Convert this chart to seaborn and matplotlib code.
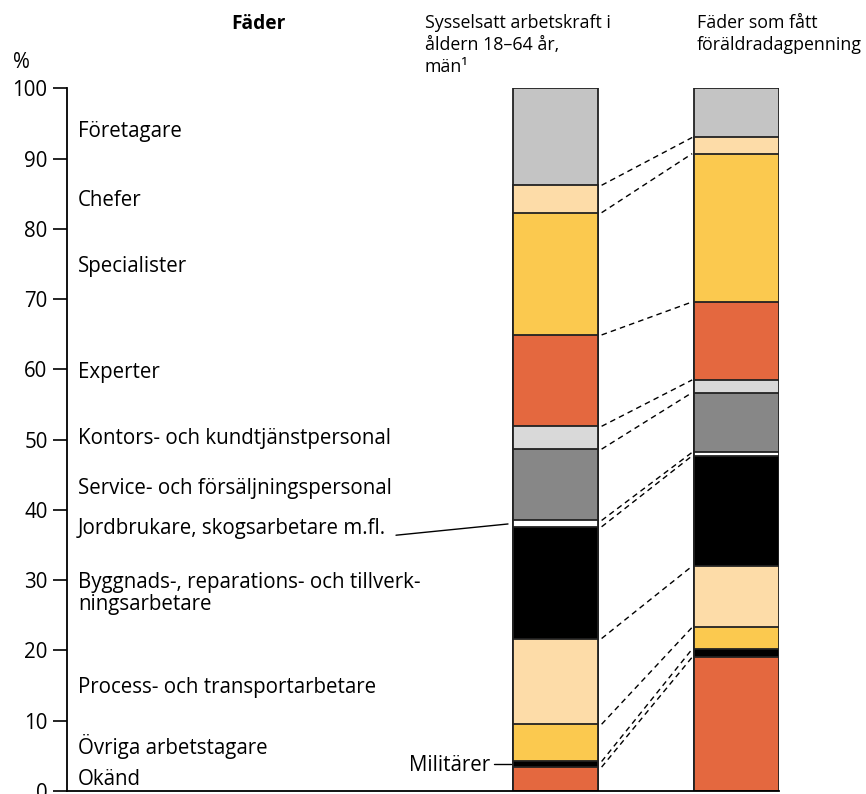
import pandas as pd
import matplotlib
matplotlib.use("Agg")
import matplotlib.pyplot as plt
import matplotlib.transforms as mtransforms
import seaborn as sns

sns.set_theme(style="white")
plt.rcParams["font.family"] = ["Open Sans", "DejaVu Sans"]
plt.rcParams["text.color"] = "black"

# Data, bottom to top
categories = ["Okänd", "Militärer", "Övriga arbetstagare", "Process- och transportarbetare",
              "Byggnads-, reparations- och tillverkningsarbetare", "Jordbrukare, skogsarbetare m.fl.",
              "Service- och försäljningspersonal", "Kontors- och kundtjänstpersonal",
              "Experter", "Specialister", "Chefer", "Företagare"]
columns = ["Sysselsatt arbetskraft", "Fäder med föräldradagpenning"]
workforce = [3.4, 0.8, 5.3, 12.2, 15.9, 0.9, 10.15, 3.25, 13.0, 17.4, 3.9, 13.8]
fathers = [19.05, 1.15, 3.1, 8.7, 15.7, 0.5, 8.5, 1.8, 11.1, 21.1, 2.3, 7.0]
colors = ["#e4683f", "#000000", "#fbc94f", "#fddca8", "#000000", "#ffffff",
          "#878787", "#d9d9d9", "#e4683f", "#fbc94f", "#fddca8", "#c4c4c4"]

# labels on the left (text, y position)
label_text = ["Okänd", "Övriga arbetstagare", "Process- och transportarbetare",
              "Byggnads-, reparations- och tillverk-\nningsarbetare",
              "Jordbrukare, skogsarbetare m.fl.", "Service- och försäljningspersonal",
              "Kontors- och kundtjänstpersonal", "Experter", "Specialister", "Chefer", "Företagare"]
label_y = [1.6, 6.3, 14.8, 28.1, 37.4, 43.1, 50.1, 59.5, 74.6, 84.1, 93.9]

df = pd.DataFrame({"category": categories * 2,
                   "column": [columns[0]] * 12 + [columns[1]] * 12,
                   "value": workforce + fathers})
df["top"] = df.groupby("column")["value"].cumsum()

FS = 14.8
HFS = 12.8
fig = plt.figure(figsize=(8.66, 7.94), dpi=100)
ax = fig.add_axes([67 / 866, 1 - 791 / 794, (779 - 67) / 866, (791 - 88.3) / 794])

w = 85 / 181
# draw cumulative bars from the top down so the lower layers cover the upper ones
for cat, col in reversed(list(zip(categories, colors))):
    sub = df[df["category"] == cat]
    sns.barplot(data=sub, x="column", y="top", order=columns, color=col, saturation=1,
                width=w, edgecolor="#222222", linewidth=1.3, ax=ax)

# dashed connectors between segment boundaries
tops1 = df[df["column"] == columns[0]]["top"].values[:-1]
tops2 = df[df["column"] == columns[1]]["top"].values[:-1]
for a, b in zip(tops1, tops2):
    ax.plot([w / 2 + 0.02, 1 - w / 2 - 0.01], [a, b], color="black", lw=1, ls=(0, (4, 3)))

ax.set_xlim(-(555.5 - 67) / 181, 1 + w / 2)
ax.set_ylim(0, 100)
ax.set_yticks(range(0, 101, 10))
ax.set_xticks([])
ax.set_xlabel("")
ax.set_ylabel("")
for s in ["top", "right"]:
    ax.spines[s].set_visible(False)
for s in ["left", "bottom"]:
    ax.spines[s].set_color("black")
    ax.spines[s].set_linewidth(1.3)
ax.tick_params(axis="y", left=True, length=10, width=1.2, pad=4, labelsize=FS, colors="black")

trans = mtransforms.blended_transform_factory(ax.transAxes, ax.transData)
for t, y in zip(label_text, label_y):
    ax.text(11 / 712, y, t, transform=trans, fontsize=FS, va="center", ha="left",
            linespacing=1.1, color="black")

# leader lines
ax.plot([(396 - 555.5) / 181, (508 - 555.5) / 181], [36.4, 38.0], color="black", lw=1)
ax.text((490 - 555.5) / 181, 3.6, "Militärer", fontsize=FS, ha="right", va="center", color="black")
ax.plot([(494 - 555.5) / 181, (511 - 555.5) / 181], [3.8, 3.8], color="black", lw=1)

fig.text(13 / 866, 1 - 62 / 794, "%", fontsize=FS, va="center", ha="left")
fig.text(258 / 866, 1 - 14 / 794, "Fäder", fontsize=13.8, fontweight="bold", va="top", ha="center")
fig.text(425 / 866, 1 - 14 / 794, "Sysselsatt arbetskraft i\nåldern 18–64 år,\nmän¹",
         fontsize=HFS, va="top", ha="left", linespacing=1.3)
fig.text(697 / 866, 1 - 14 / 794, "Fäder som fått\nföräldradagpenning",
         fontsize=HFS, va="top", ha="left", linespacing=1.3)

fig.savefig("out.png", dpi=100)
